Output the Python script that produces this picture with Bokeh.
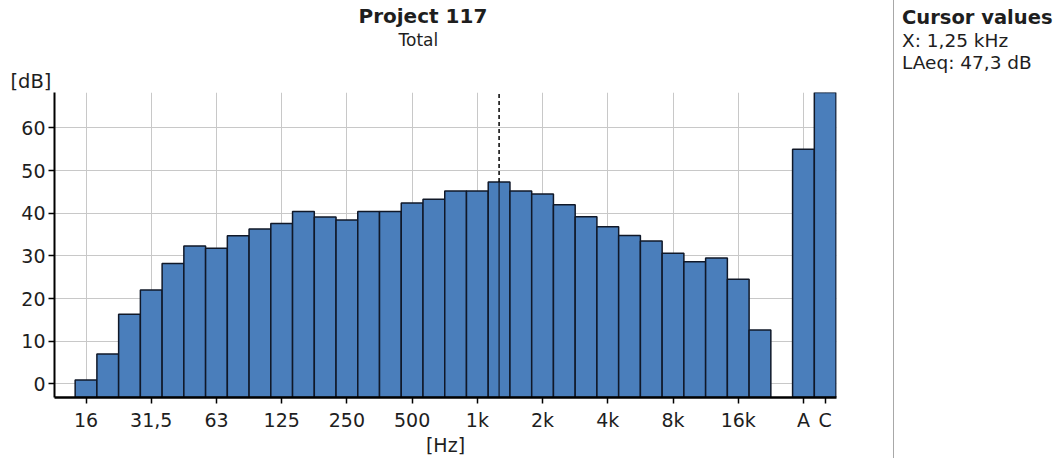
from bokeh.plotting import figure
from bokeh.models import Range1d, FixedTicker, Title, Div
from bokeh.layouts import row
from bokeh.embed import file_html
from bokeh.resources import INLINE

# ---------------- data ----------------
bands = ["16", "20", "25", "31,5", "40", "50", "63", "80", "100", "125", "160",
         "200", "250", "315", "400", "500", "630", "800", "1k", "1,25k", "1,6k",
         "2k", "2,5k", "3,15k", "4k", "5k", "6,3k", "8k", "10k", "12,5k", "16k", "20k"]
levels = [0.9, 7.0, 16.3, 22.0, 28.2, 32.3, 31.8, 34.7, 36.3, 37.6, 40.4,
          39.1, 38.4, 40.4, 40.4, 42.4, 43.3, 45.2, 45.2, 47.3, 45.2,
          44.5, 42.0, 39.2, 36.8, 34.8, 33.5, 30.6, 28.6, 29.5, 24.5, 12.6]
total_names = ["A", "C"]
total_levels = [55.0, 68.3]
x_tick_labels = ["16", "31,5", "63", "125", "250", "500", "1k", "2k", "4k", "8k", "16k"]
y_ticks = [0, 10, 20, 30, 40, 50, 60]
title_text = "Project 117"
subtitle_text = "Total"
y_unit = "[dB]"
x_unit = "[Hz]"
cursor_band = "1,25k"
cursor_x_text = "X: 1,25 kHz"
cursor_y_text = "LAeq: 47,3 dB"
panel_title = "Cursor values"

# ---------------- styling ----------------
FONT = "DejaVu Sans"
BAR = "#4a7ebb"
EDGE = "#101828"
GRID = "#c8c8c8"
TXT = "#1e1e1e"

W1, H = 893, 458
W2 = 163
ML, MR, MT, MB = 54, 57, 92, 61
XS, XE = -1.45, 34.52
YS, YE = -3.2, 68.3

band_pos = list(range(len(bands)))
total_pos = [len(bands) + 1 + j for j in range(len(total_names))]
tick_pos = [bands.index(t) for t in x_tick_labels] + total_pos
tick_lbl = x_tick_labels + total_names

p = figure(width=W1, height=H, x_range=Range1d(XS, XE), y_range=Range1d(YS, YE),
           output_backend="svg", toolbar_location=None, title=None,
           min_border_left=ML, min_border_right=MR, min_border_top=MT, min_border_bottom=MB)
p.outline_line_color = None
p.background_fill_color = "white"
p.border_fill_color = "white"

xt = FixedTicker(ticks=tick_pos)
p.xaxis.ticker = xt
p.xaxis.major_label_overrides = {pos: lab for pos, lab in zip(tick_pos, tick_lbl)}
p.yaxis.ticker = FixedTicker(ticks=y_ticks)
p.xgrid.ticker = xt
p.grid.grid_line_color = GRID
p.grid.grid_line_width = 1

for ax in (p.xaxis[0], p.yaxis[0]):
    ax.axis_line_color = "black"
    ax.major_tick_line_color = "black"
    ax.major_tick_line_width = 1.5
    ax.major_tick_in = 0
    ax.major_tick_out = 6
    ax.minor_tick_line_color = None
    ax.major_label_text_font = FONT
    ax.major_label_text_font_size = "19px"
    ax.major_label_text_color = TXT
p.xaxis.axis_line_width = 2.5
p.yaxis.axis_line_width = 2
p.xaxis.major_label_standoff = 5
p.yaxis.major_label_standoff = 3
p.xaxis.axis_label = x_unit
p.xaxis.axis_label_text_font = FONT
p.xaxis.axis_label_text_font_size = "19px"
p.xaxis.axis_label_text_font_style = "normal"
p.xaxis.axis_label_text_color = TXT
p.xaxis.axis_label_standoff = 0

p.vbar(x=band_pos, top=levels, bottom=YS, width=1.0, fill_color=BAR,
       line_color=EDGE, line_width=1.5)
p.vbar(x=total_pos, top=total_levels, bottom=YS, width=1.0, fill_color=BAR,
       line_color=EDGE, line_width=1.5)

ci = bands.index(cursor_band)
p.segment(x0=[ci], y0=[levels[ci]], x1=[ci], y1=[YE], line_color="black",
          line_width=1.5, line_dash="4 3")
p.segment(x0=[ci], y0=[YS], x1=[ci], y1=[levels[ci]], line_color=EDGE, line_width=1.2)

# titles stacked above the frame (first added = closest to the frame)
p.add_layout(Title(text=y_unit, align="left", offset=10 - ML, text_font=FONT,
                   text_font_size="19.5px", text_font_style="normal", text_color=TXT,
                   standoff=0), "above")
p.add_layout(Title(text=" ", align="left", offset=0, text_font=FONT,
                   text_font_size="10px", text_font_style="normal", text_color=TXT,
                   standoff=5), "above")
p.add_layout(Title(text=subtitle_text, align="left", offset=398 - ML, text_font=FONT,
                   text_font_size="17px", text_font_style="normal", text_color=TXT,
                   standoff=0), "above")
p.add_layout(Title(text=title_text, align="left", offset=358 - ML, text_font=FONT,
                   text_font_size="20px", text_font_style="bold", text_color=TXT,
                   standoff=0), "above")

# ---------------- right panel ----------------
panel_html = (
    f'<div style="box-sizing:border-box;width:{W2}px;height:{H}px;overflow:hidden;'
    f'border-left:1.5px solid #a8a8a8;padding:7px 0 0 8px;white-space:nowrap;'
    f'font-family:\'{FONT}\';color:{TXT};line-height:22.5px;font-size:18.5px;">'
    f'<span style="font-weight:bold;font-size:19.5px;">{panel_title}</span><br>'
    f'{cursor_x_text}<br>{cursor_y_text}</div>'
)
q = Div(text=panel_html, width=W2, height=H, margin=0)

layout = row(p, q)
open("out.html", "w").write(file_html(layout, INLINE))
